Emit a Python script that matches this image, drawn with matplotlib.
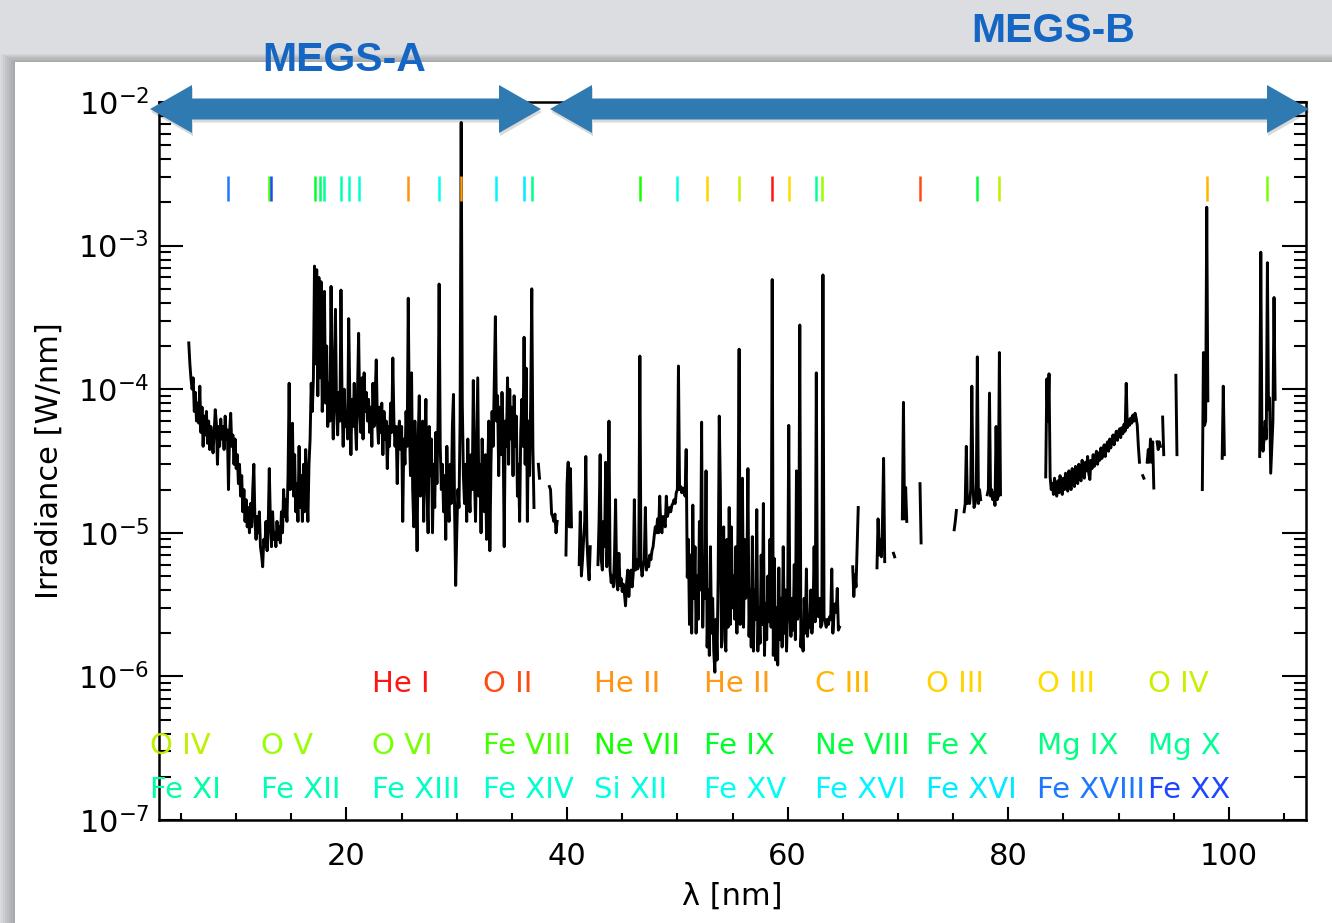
import numpy as np
import matplotlib
matplotlib.use("Agg")
import matplotlib.pyplot as plt
from matplotlib.patches import Polygon, Rectangle
from matplotlib.ticker import MultipleLocator, LogLocator, NullFormatter

# EUV irradiance, uW/nm, on a 0.1 nm grid
step = 0.1
megs_a_start = 5.7
megs_a_irr = [
    210, 150, 118,
    100, 120, 70, 95, 60, 80, 58, 105, 50, 75,
    40, 65, 48, 70, 42, 60, 38, 55, 45, 36,
    50, 72, 58, 30, 55, 40, 62, 45, 55, 38,
    65, 45, 52, 20, 50, 68, 40, 48, 30, 45,
    28, 35, 22, 30, 18, 25, 14, 20, 12, 17,
    11, 15, 10, 16, 11, 20, 30, 12, 9, 13,
    10, 14, 8, 7, 5.8, 9, 8, 12, 7.5, 11,
    28, 12, 8, 14, 9, 10, 8, 12, 9, 11,
    8.5, 14, 10, 20, 13, 17, 12, 25, 110, 20,
    30, 58, 18, 35, 14, 22, 12, 40, 15, 25,
    12, 30, 14, 38, 20, 12, 30, 45, 110, 70,
    120, 720, 150, 680, 90, 600, 120, 560, 70, 140,
    480, 80, 200, 55, 110, 60, 520, 90, 45, 150,
    360, 70, 48, 95, 60, 490, 80, 40, 100, 55,
    70, 45, 310, 90, 35, 85, 55, 110, 60, 38,
    95, 245, 70, 50, 120, 45, 130, 70, 95, 60,
    85, 50, 75, 40, 110, 55, 90, 160, 60, 42,
    75, 50, 80, 35, 70, 45, 60, 28, 55, 40,
    80, 50, 165, 60, 40, 55, 22, 50, 60, 38,
    55, 12, 45, 30, 70, 40, 430, 60, 25, 130,
    20, 11, 60, 25, 7.5, 45, 90, 18, 30, 60,
    12, 40, 85, 20, 10, 55, 25, 45, 10, 30,
    15, 50, 22, 60, 540, 40, 20, 30, 14, 25,
    9, 40, 18, 12, 30, 16, 55, 92, 15, 4.3,
    10, 20, 15, 60, 7200, 80, 25, 16, 30, 12,
    45, 20, 14, 35, 20, 115, 25, 12, 40, 120,
    18, 30, 10, 45, 20, 14, 35, 9, 25, 60,
    7.5, 30, 70, 40, 110, 320, 60, 90, 25, 75,
    35, 95, 50, 8, 60, 40, 120, 30, 100, 45,
    75, 25, 90, 40, 65, 18, 30, 12, 50, 85,
    40, 230, 30, 140, 12, 60, 25, 80, 500, 40,
    15,
]

megs_b_starts = [37.4, 38.4, 39.9, 41.1, 42.8, 65.9, 68.1, 69.6, 70.4, 72.0,
                 75.1, 76.0, 78.1, 83.4, 92.2, 92.6, 93.5, 94.0, 95.2, 97.6,
                 99.4, 102.8]
megs_b_irr = [
    [30, 24],
    [21, 20, 13.5, 13, 12, 13.5, 10, 12],
    [7, 22, 31, 11, 28, 11],
    [6, 14, 5, 6.5, 9, 12, 34, 9, 6, 4.7, 8],
    [6, 12,
     35, 6.5, 5.5, 12, 8, 31, 5.8, 9, 60, 5.5,
     4.5, 5, 4.2, 7, 17, 4.5, 4, 7.2, 4.3, 4.8,
     3.9, 4.4, 3.8, 3.1, 4.5, 5.5, 3.6, 4.8, 5.5, 4.2,
     5.2, 17, 5.5, 6.5, 5.6, 6, 170, 6, 5, 5.8,
     6.5, 15, 5.5, 6.5, 5.8, 7, 6.5, 7.5, 8, 9.5,
     11, 10, 12.5, 10, 18, 11, 10, 13, 12, 11,
     18, 13, 14, 15, 14, 15.5, 16, 17, 16, 19,
     20, 145, 20, 21, 19, 20.5, 20, 18, 38, 4.9,
     9, 2.3, 7, 2.0, 15.6, 3.5, 8, 2.0, 5, 2.5,
     12, 4, 59, 2.2, 6, 3.5, 27, 1.6, 4, 1.4,
     8, 2.0, 3.5, 1.5, 1.07, 2.5, 1.3, 5, 65, 20,
     1.6, 6, 11, 1.8, 1.5, 9, 2.2, 15, 2.3, 11,
     3, 5, 2.5, 8, 2.0, 12, 190, 2.3, 6, 24,
     2.2, 9, 3.5, 5, 28, 1.9, 4, 1.6, 9.4, 1.5,
     4, 2.5, 14.5, 1.5, 3, 1.7, 7, 2.3, 16, 1.4,
     3.2, 1.8, 5, 2.4, 9, 2.2, 580, 1.4, 6.6, 1.3,
     3, 1.2, 5.7, 1.8, 3.5, 1.6, 8, 2.0, 4, 1.5,
     3, 56, 2.8, 1.9, 3.5, 2.1, 6, 1.8, 27, 2.5,
     3, 280, 1.6, 2.4, 1.5, 3.5, 2.0, 5.6, 1.9, 2.5,
     2.2, 4, 2.0, 2.6, 8, 2.4, 130, 2.9, 2.6, 3.5,
     2.2, 2.3, 625, 2.6, 2.4, 2.2, 2.5, 2.3, 2.6, 2.5,
     5.6, 2.0, 2.7, 3.2, 2.8, 4.1, 2.1, 2.2],
    [5.8, 3.6, 5.1, 4.2, 8, 15],
    [5.7, 12.5, 7, 9, 6.8, 12, 33, 6.3],
    [7.2, 6.8],
    [12.5, 81, 12.5, 20.7, 12],
    [22, 8.5],
    [10.5, 12, 14.3],
    [14, 16, 40, 16, 17, 16, 20, 105, 22, 15, 16, 18, 168, 16, 20, 17],
    [18.4, 20, 94, 18, 20, 17, 19, 15.5, 55, 17, 18, 180, 18.4],
    [24.5, 118, 60, 128, 24.5, 20,
     22, 18.5, 24, 19.5, 18, 23, 19, 25, 20.5, 18.5,
     24, 20, 26, 21, 19.5, 27, 22, 20, 28, 23,
     21, 29, 24, 22, 30, 25, 23, 32, 26, 24,
     31, 27, 34, 26, 23.5, 32, 28, 35, 29, 33,
     37, 30, 36, 32, 39, 33, 38, 41, 34, 40,
     43, 37, 45, 39, 44, 48, 41, 47, 51, 44,
     50, 53, 46, 54, 49, 57, 51, 110, 54, 61,
     56, 63, 58, 66, 60, 68, 63, 56, 40, 31],
    [25, 24],
    [31, 38, 31, 45, 31, 43, 20.5],
    [43, 38, 43, 40],
    [64, 35],
    [125, 35],
    [20, 180, 56, 60, 1850, 83],
    [33, 105, 35],
    [34, 900, 51, 37, 45, 60, 45, 760, 72, 87, 26, 40, 60, 435, 85],
]

# identified emission lines, in label order
line_names = ["He I", "O II", "He II", "He II", "C III", "O III", "O III", "O IV",
              "O IV", "O V", "O VI", "Fe VIII", "Ne VII", "Fe IX", "Ne VIII", "Fe X", "Mg IX", "Mg X",
              "Fe XI", "Fe XII", "Fe XIII", "Fe XIV", "Si XII", "Fe XV", "Fe XVI", "Fe XVI",
              "Fe XVIII", "Fe XX"]
line_wl = [58.6, 72.0, 25.6, 30.4, 98.0, 52.7, 60.1, 55.6,
           79.2, 63.1, 103.5, 13.0, 46.6, 17.1, 77.2, 17.6, 36.8, 62.6,
           18.0, 19.5, 20.2, 21.1, 50.0, 28.4, 33.6, 36.1,
           9.3, 13.2]
line_colors = ['#ff1414', '#ff4a14', '#ff9414', '#ff9a14', '#ffb400', '#ffd200', '#ffdc00', '#c8f000',
               '#bef000', '#96ff00', '#78ff00', '#46ff00', '#14ff00', '#00ff28', '#00ff3c', '#00ff64',
               '#00ff82', '#00ff96', '#00ffa0', '#00ffb4', '#00ffc3', '#00ffd2', '#00ffe1', '#00fff0',
               '#00f5ff', '#00ebff', '#1e78ff', '#1e46ff']

W, H = 1332, 923


def fpos(x, y):
    # pixel position (from top-left) to figure fraction
    return x / W, 1 - y / H


def double_arrow(x0, x1, yc, shaft=10.5, head=24, head_len=42):
    pts = [(x0, yc), (x0 + head_len, yc - head), (x0 + head_len, yc - shaft),
           (x1 - head_len, yc - shaft), (x1 - head_len, yc - head), (x1, yc),
           (x1 - head_len, yc + head), (x1 - head_len, yc + shaft),
           (x0 + head_len, yc + shaft), (x0 + head_len, yc + head)]
    return [fpos(x, y) for x, y in pts]


# build the spectrum with NaN breaks between pieces
wl_parts, irr_parts = [], []
pieces = [(megs_a_start, megs_a_irr)] + list(zip(megs_b_starts, megs_b_irr))
for start, vals in pieces:
    n = len(vals)
    wl_parts.append(np.round(start + step * np.arange(n), 2))
    irr_parts.append(np.array(vals, dtype=float) * 1e-6)
    wl_parts.append([np.nan])
    irr_parts.append([np.nan])
wl = np.concatenate(wl_parts)
irr = np.concatenate(irr_parts)

fig = plt.figure(figsize=(W / 100, H / 100), dpi=100, facecolor='#dcdde0')

# white slide panel with a soft shadow
for k in range(7):
    fig.add_artist(Rectangle(fpos(15 - 2 * (k + 1), H), (W - 15 + 2 * (k + 1)) / W,
                             (H - 62 + 1.2 * (k + 1)) / H, transform=fig.transFigure,
                             facecolor='black', edgecolor='none', alpha=0.035, zorder=-3))
fig.add_artist(Rectangle(fpos(15, H), (W - 15) / W, (H - 62) / H, transform=fig.transFigure,
                         facecolor='white', edgecolor='none', zorder=-2))

ax = fig.add_axes([159 / W, (H - 820) / H, 1147 / W, 718 / H])
ax.set_facecolor('white')
ax.plot(wl, irr, color='black', lw=2.1, zorder=2)

ax.set_yscale('log')
ax.set_xlim(3, 107)
ax.set_ylim(1e-7, 1e-2)

# line markers near the top
ax.vlines(line_wl, 0.862, 0.897, transform=ax.get_xaxis_transform(),
          colors=line_colors, lw=1.8, zorder=3)

# line names in three rows of ten slots
row_y = [0.178, 0.092, 0.031]
for i, (name, col) in enumerate(zip(line_names, line_colors)):
    slot = i + 2
    row, k = divmod(slot, 10)
    ax.text(2.2 + 10.05 * k, row_y[row], name, transform=ax.get_xaxis_transform(),
            color=col, fontsize=21, ha='left', va='baseline', zorder=4, clip_on=False)

ax.xaxis.set_major_locator(MultipleLocator(20))
ax.xaxis.set_minor_locator(MultipleLocator(5))
ax.yaxis.set_major_locator(LogLocator(base=10, numticks=10))
ax.yaxis.set_minor_locator(LogLocator(base=10, subs=np.arange(2, 10), numticks=20))
ax.yaxis.set_minor_formatter(NullFormatter())

ax.tick_params(which='both', direction='in', top=True, right=True, width=1.5,
               labelsize=22, colors='black')
ax.xaxis.set_tick_params(which='major', length=9.5, pad=16)
ax.xaxis.set_tick_params(which='minor', length=5)
ax.yaxis.set_tick_params(which='major', length=17, pad=7)
ax.yaxis.set_tick_params(which='minor', length=8.5)
for sp in ax.spines.values():
    sp.set_linewidth(1.8)

ax.set_xlabel("λ [nm]", fontsize=22, va='baseline')
ax.xaxis.set_label_coords(0.5, -0.118)
ax.set_ylabel("Irradiance [W/nm]", fontsize=22, va='baseline')
ax.yaxis.set_label_coords(-0.088, 0.5)

# instrument ranges
arrow_color = '#2f7bb1'
for x0, x1 in [(150, 541), (550, 1309)]:
    shadow = [(x, y - 3 / H) for x, y in double_arrow(x0 + 1, x1 + 1, 109)]
    fig.add_artist(Polygon(shadow, closed=True, transform=fig.transFigure,
                           facecolor='black', edgecolor='none', alpha=0.15, zorder=5))
    fig.add_artist(Polygon(double_arrow(x0, x1, 109), closed=True, transform=fig.transFigure,
                           facecolor=arrow_color, edgecolor='none', zorder=6))

title_font = dict(fontsize=29.5, fontweight='bold', color='#1466c2', family='Liberation Sans',
                  ha='center', va='baseline', zorder=7)
fig.text(*fpos(344, 71), "MEGS-A", **title_font)
fig.text(*fpos(1053, 42), "MEGS-B", **title_font)

fig.savefig("out.png", dpi=100, facecolor=fig.get_facecolor())
